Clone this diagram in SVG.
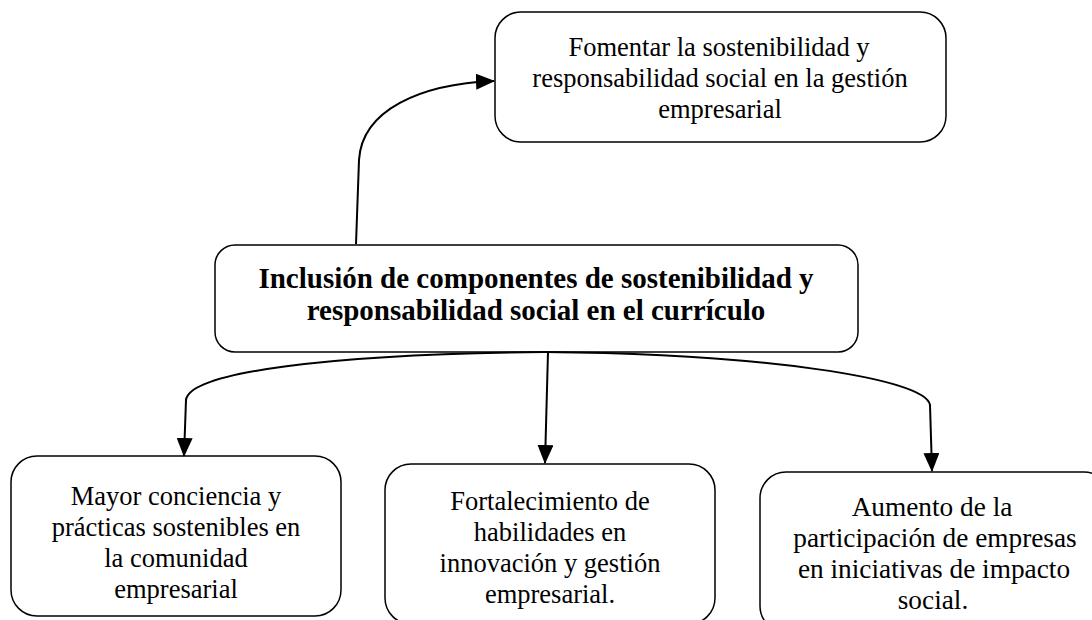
<svg xmlns="http://www.w3.org/2000/svg" width="1092" height="620" viewBox="0 0 1092 620">
<style>
.box{fill:#fff;stroke:#000;stroke-width:1.5}
.t{font-family:"Liberation Serif","Times New Roman",serif;font-size:26.5px;fill:#000;text-anchor:middle}
.r{font-size:27.3px}
.b{font-family:"Liberation Serif","Times New Roman",serif;font-size:29px;font-weight:bold;fill:#000;text-anchor:middle}
.c{fill:none;stroke:#000;stroke-width:2}
</style>
<defs>
<marker id="ah" markerUnits="userSpaceOnUse" markerWidth="19" markerHeight="16" refX="18" refY="8" orient="auto">
<path d="M0,0 L19,8 L0,16 Z" fill="#000"/>
</marker>
</defs>
<rect width="1092" height="620" fill="#fff"/>
<g id="top">
<rect class="box" x="495" y="12" width="451" height="130" rx="26" stroke="#333"/>
<text class="t" x="719" y="56">Fomentar la sostenibilidad y</text>
<text class="t" x="720" y="87">responsabilidad social en la gestión</text>
<text class="t" x="720" y="118">empresarial</text>
</g>
<g id="center">
<rect class="box" x="215" y="245" width="643" height="107" rx="20"/>
<text class="b" x="536" y="288">Inclusión de componentes de sostenibilidad y</text>
<text class="b" x="536" y="320">responsabilidad social en el currículo</text>
</g>
<g id="left">
<rect class="box" x="11" y="456" width="330" height="160" rx="26"/>
<text class="t" x="176" y="505">Mayor conciencia y</text>
<text class="t" x="176" y="536">prácticas sostenibles en</text>
<text class="t" x="176" y="567">la comunidad</text>
<text class="t" x="176" y="598">empresarial</text>
</g>
<g id="middle">
<rect class="box" x="385" y="464" width="330" height="160" rx="26"/>
<text class="t" x="550" y="510">Fortalecimiento de</text>
<text class="t" x="550" y="541">habilidades en</text>
<text class="t" x="550" y="572">innovación y gestión</text>
<text class="t" x="550" y="603">empresarial.</text>
</g>
<g id="right">
<rect class="box" x="760" y="472" width="350" height="160" rx="26"/>
<text class="t r" x="932" y="516">Aumento de la</text>
<text class="t r" x="935" y="547">participación de empresas</text>
<text class="t r" x="934" y="578">en iniciativas de impacto</text>
<text class="t r" x="933" y="609">social.</text>
</g>
<g id="connectors">
<path class="c" d="M356,244 L359,160 C362,110 420,84 494,81" marker-end="url(#ah)"/>
<path class="c" d="M545,352 C330,354 190,372 186,400 L184,456" marker-end="url(#ah)"/>
<path class="c" d="M548,352 L545,463" marker-end="url(#ah)"/>
<path class="c" d="M545,352 C760,354 926,378 930,405 L932,471" marker-end="url(#ah)"/>
</g>
</svg>
